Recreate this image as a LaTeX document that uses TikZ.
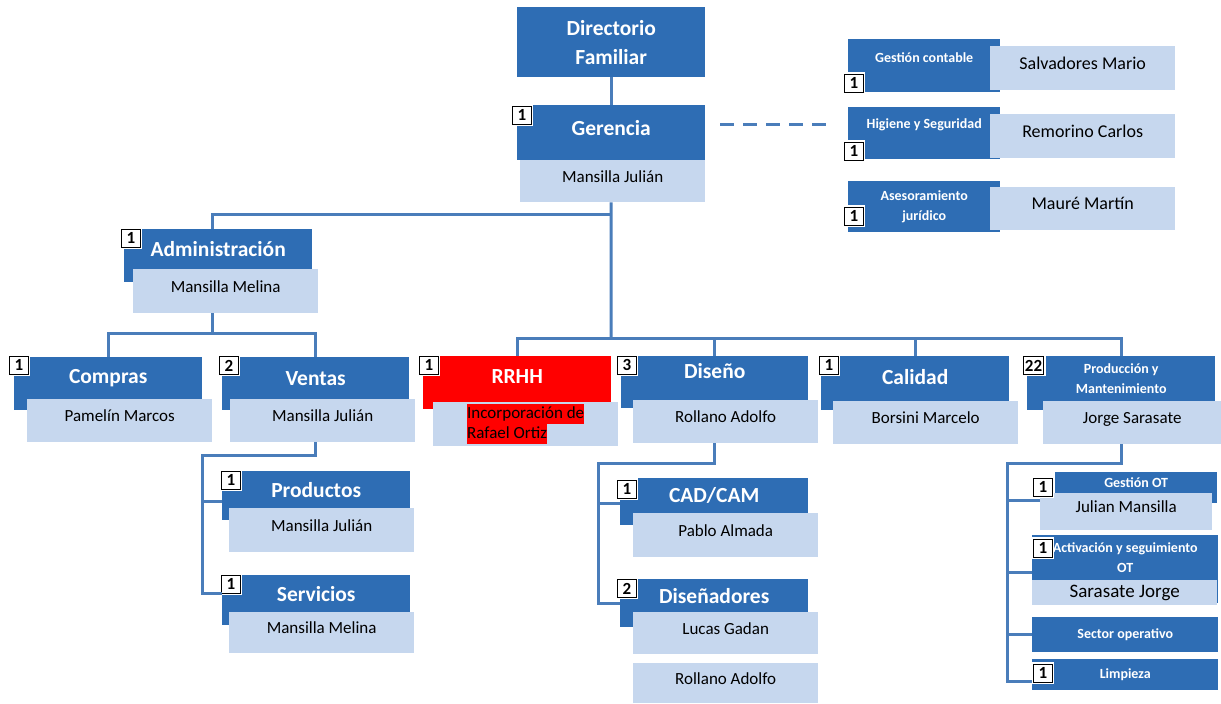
\documentclass[tikz,border=0pt]{standalone}
\usepackage{fontspec}
\setmainfont{Carlito}
\setlength{\fboxsep}{0pt}
\definecolor{headblue}{HTML}{2E6DB4}
\definecolor{nameblue}{HTML}{C6D7EE}
\definecolor{linkblue}{HTML}{4A7DBA}
\begin{document}
\begin{tikzpicture}[x=1pt, y=-1pt,
  dims/.style 2 args={minimum width=#1pt, minimum height=#2pt},
  head/.style={fill=headblue, text=white, anchor=north west, inner sep=0pt, align=center, font=\bfseries\fontsize{21.5}{24}\selectfont},
  smallhead/.style={head, font=\bfseries\fontsize{14}{20}\selectfont},
  namebox/.style={fill=nameblue, anchor=north west, inner sep=0pt, align=center, font=\fontsize{17}{20}\selectfont},
  person/.style={namebox, text height=13pt, text depth=11pt},
  badge/.style={draw=black, fill=white, line width=.9pt, anchor=north west, inner sep=1.5pt, minimum width=19pt, minimum height=18pt, font=\bfseries\fontsize{17}{17}\selectfont, preaction={draw=white, line width=4pt}},
  link/.style={draw=linkblue, line width=3pt}]
\useasboundingbox (0,0) rectangle (1221,704);

% direccion
\node[head, dims={188}{70}, font=\bfseries\fontsize{21.5}{29}\selectfont] (dir) at (517,7) {Directorio\\Familiar};
\node[head, dims={188}{46}] (ger) at (517,105) {Gerencia};
\fill[headblue] (ger.south west) rectangle ([yshift=-9pt]ger.south east);
\node[person, dims={185}{42}] (gern) at (520,160) {Mansilla Julián};
\node[badge] (bger) at (512,106) {1};

% staff
\node[smallhead, dims={152}{36}] (gc) at (848,39) {Gestión contable};
\fill[headblue] (gc.south west) rectangle ([yshift=-17pt]gc.south east);
\node[person, dims={185}{44}, font=\fontsize{18}{20}\selectfont] (gcn) at (990,46) {Salvadores Mario};
\node[badge] (bgc) at (844,74) {1};
\node[smallhead, dims={152}{36}] (hs) at (848,107) {Higiene y Seguridad};
\fill[headblue] (hs.south west) rectangle ([yshift=-16pt]hs.south east);
\node[person, dims={185}{44}, font=\fontsize{18}{20}\selectfont] (hsn) at (990,114) {Remorino Carlos};
\node[badge] (bhs) at (844,142) {1};
\node[smallhead, dims={152}{51}] (aj) at (848,181) {Asesoramiento\\jurídico};
\node[person, dims={185}{43}, font=\fontsize{18}{20}\selectfont] (ajn) at (990,187) {Mauré Martín};
\node[badge] (baj) at (844,207) {1};

% administracion
\node[head, dims={188}{40}] (adm) at (124,229) {Administración};
\fill[headblue] (adm.south west) rectangle ([yshift=-13pt]adm.south east);
\node[person, dims={185}{44}] (admn) at (133,269) {Mansilla Melina};
\node[badge] (badm) at (121,229) {1};
\node[head, dims={188}{42}] (com) at (14,357) {Compras};
\fill[headblue] (com.south west) rectangle ([yshift=-11pt]com.south east);
\node[person, dims={185}{43}] (comn) at (27,399) {Pamelín Marcos};
\node[badge] (bcom) at (9,356) {1};
\node[head, dims={187}{42}] (ven) at (222,357) {Ventas};
\fill[headblue] (ven.south west) rectangle ([yshift=-11pt]ven.south east);
\node[person, dims={185}{43}] (venn) at (230,399) {Mansilla Julián};
\node[badge] (bven) at (219,356) {2};
\node[head, dims={188}{37}] (pro) at (222,471) {Productos};
\fill[headblue] (pro.south west) rectangle ([yshift=-12pt]pro.south east);
\node[person, dims={185}{44}] (pron) at (229,508) {Mansilla Julián};
\node[badge] (bpro) at (221,471) {1};
\node[head, dims={188}{37}] (ser) at (222,575) {Servicios};
\fill[headblue] (ser.south west) rectangle ([yshift=-13pt]ser.south east);
\node[person, dims={185}{41}] (sern) at (229,612) {Mansilla Melina};
\node[badge] (bser) at (221,575) {1};

% rrhh
\node[head, fill=red, dims={188}{40}] (rrhh) at (423,356) {RRHH};
\fill[red] (rrhh.south west) rectangle ([yshift=-13pt]rrhh.south east);
\node[namebox, dims={185}{44}, align=left] (rrhhn) at (433,402) {\colorbox{red}{\strut Incorporación de}\\\colorbox{red}{\strut Rafael Ortiz}};
\node[badge] (brrhh) at (419,356) {1};

% diseno
\node[head, dims={187}{30}] (dis) at (621,356) {Diseño};
\fill[headblue] (dis.south west) rectangle ([yshift=-22pt]dis.south east);
\node[person, dims={185}{43}] (disn) at (633,400) {Rollano Adolfo};
\node[badge] (bdis) at (617,356) {3};
\node[head, dims={188}{35}] (cad) at (620,478) {CAD/CAM};
\fill[headblue] (cad.south west) rectangle ([yshift=-12pt]cad.south east);
\node[person, dims={185}{44}] (cadn) at (633,513) {Pablo Almada};
\node[badge] (bcad) at (617,480) {1};
\node[head, dims={188}{33}] (dsn) at (620,579) {Diseñadores};
\fill[headblue] (dsn.south west) rectangle ([yshift=-15pt]dsn.south east);
\node[person, dims={185}{42}] (dsnn) at (633,612) {Lucas Gadan};
\node[person, dims={185}{40}] (dsnm) at (633,663) {Rollano Adolfo};
\node[badge] (bdsn) at (617,579) {2};

% calidad
\node[head, dims={188}{41}] (cal) at (821,356) {Calidad};
\fill[headblue] (cal.south west) rectangle ([yshift=-13pt]cal.south east);
\node[person, dims={185}{43}] (caln) at (833,401) {Borsini Marcelo};
\node[badge] (bcal) at (819,356) {1};

% produccion
\node[smallhead, dims={188}{45}] (prod) at (1027,356) {Producción y\\Mantenimiento};
\fill[headblue] (prod.south west) rectangle ([yshift=-9pt]prod.south east);
\node[person, dims={178}{43}] (prodn) at (1043,401) {Jorge Sarasate};
\node[badge] (bprod) at (1023,356) {22};
\node[smallhead, dims={162}{21}] (got) at (1055,472) {Gestión OT};
\fill[headblue] (got.south west) rectangle ([yshift=-10pt]got.south east);
\node[person, dims={172}{37}] (gotn) at (1040,493) {Julian Mansilla};
\node[badge] (bgot) at (1033,478) {1};
\node[smallhead, dims={186}{45}] (act) at (1032,535) {Activación y seguimiento\\OT};
\fill[headblue] (act.south west) rectangle ([yshift=-23pt]act.south east);
\node[namebox, dims={185}{25}, font=\fontsize{19}{20}\selectfont] (actn) at (1032,580) {Sarasate Jorge};
\node[badge] (bact) at (1033,539) {1};
\node[smallhead, dims={186}{35}] (sec) at (1032,617) {Sector operativo};
\node[smallhead, dims={186}{31}] (lim) at (1032,659) {Limpieza};
\node[badge] (blim) at (1033,664) {1};

% lineas
\coordinate (j1) at (611,214);
\coordinate (j2) at (611,338);
\coordinate (j3) at (212,333);
\coordinate (j4) at (202,455);
\coordinate (j5) at (598,463);
\coordinate (j6) at (1007,463);
\draw[link] (dir) -- (ger);
\draw[link] (gern.south -| ger.south) -- (j2);
\draw[link] (j1) -| ([xshift=-6pt]adm.north);
\draw[link] (rrhh.north) |- (j2 -| prod.north) -- (prod.north);
\draw[link] (dis.north) -- (dis.north |- j2);
\draw[link] (cal.north) -- (cal.north |- j2);
\draw[link, dash pattern=on 14pt off 9pt, shorten <=15pt, shorten >=16pt] ([yshift=4pt]ger.east) -- ([yshift=4pt]ger.east -| hs.west);
\draw[link] (admn.south -| j3) -- (j3);
\draw[link] (com.north) |- (j3 -| ven.north) -- (ven.north);
\draw[link] (venn.south -| ven.north) |- (j4) |- (ser.west);
\draw[link] ([yshift=-12pt]pro.west -| j4) -- ([yshift=-12pt]pro.west);
\draw[link] (disn.south -| dis.north) |- (j5) |- ([yshift=-8pt]dsn.west);
\draw[link] ([yshift=-8pt]cad.west -| j5) -- ([yshift=-8pt]cad.west);
\draw[link] (prodn.south -| prod.north) |- (j6) |- ([yshift=-7pt]lim.west);
\draw[link] ([yshift=11pt]gotn.west -| j6) -- ([yshift=11pt]gotn.west);
\draw[link] ([yshift=-15pt]act.west -| j6) -- ([yshift=-15pt]act.west);
\draw[link] (sec.west -| j6) -- (sec.west);
\end{tikzpicture}
\end{document}
